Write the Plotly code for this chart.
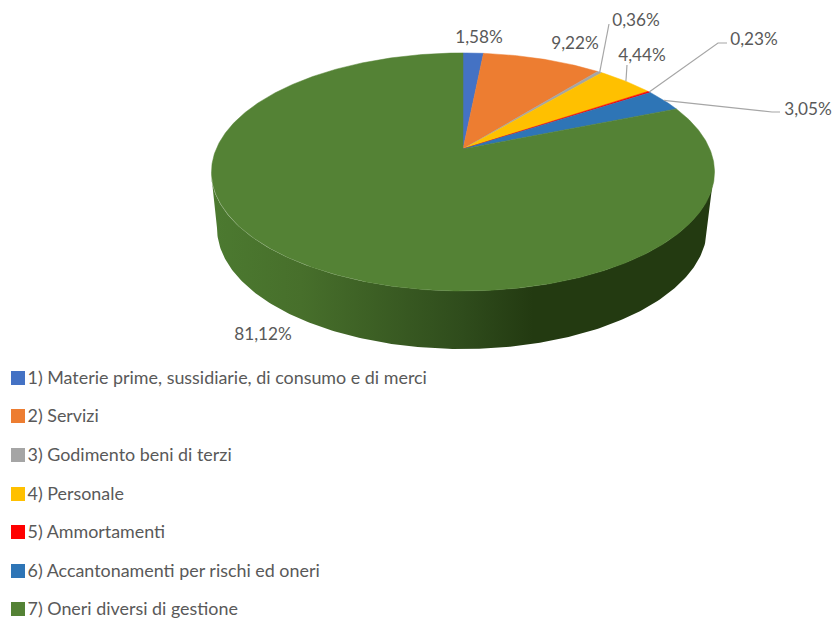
import numpy as np
import plotly.graph_objects as go

# ---- data ----
categories = ["1) Materie prime, sussidiarie, di consumo e di merci", "2) Servizi",
              "3) Godimento beni di terzi", "4) Personale", "5) Ammortamenti",
              "6) Accantonamenti per rischi ed oneri", "7) Oneri diversi di gestione"]
values = [1.58, 9.22, 0.36, 4.44, 0.23, 3.05, 81.12]

# ---- style ----
colors = ["#4472C4", "#ED7D31", "#A5A5A5", "#FFC000", "#FF0000", "#2E75B6", "#548235"]
side_scale = [[0, "#4C7A30"], [0.18, "#476F2B"], [0.5, "#2F4C1C"], [0.64, "#233A11"], [1, "#233A11"]]
FONT = "Lato"
TEXT = "#595959"
LINE = "#A6A6A6"

# ---- pie geometry (pixel axes) ----
CX, CY = 463.0, 149.0
K, A, C = 0.193, 114.6, 246.8
BOT = dict(cx=462.0, cy=228.0, rx=245.0, ry=121.0)
TOPE = dict(cx=462.5, cy=172.0, rx=251.5, ry=119.0)


def rim(pct):
    t = np.asarray(pct) / 100 * 2 * np.pi
    u, v = np.sin(t), np.cos(t)
    d = 1 + K * v
    return CX + C * u / d, CY - A * v / d


def arc(e, a0, a1, n=200):
    t = np.linspace(a0, a1, n)
    return e["cx"] + e["rx"] * np.cos(t), e["cy"] + e["ry"] * np.sin(t)


fig = go.Figure()

# side wall
x1, y1 = arc(TOPE, np.pi, 0)
x2, y2 = arc(BOT, 0, np.pi)
fig.add_trace(go.Scatter(
    x=np.r_[x1, x2], y=np.r_[y1, y2], mode="lines", fill="toself", line=dict(width=0),
    fillgradient=dict(type="horizontal", colorscale=side_scale), hoverinfo="skip", showlegend=False))

# top slices
edges = np.r_[0, np.cumsum(values)]
for i, name in enumerate(categories):
    p = np.linspace(edges[i], edges[i + 1], max(3, int(values[i] * 6)))
    xs, ys = rim(p)
    fig.add_trace(go.Scatter(
        x=np.r_[CX, xs, CX], y=np.r_[CY, ys, CY], mode="lines", fill="toself",
        fillcolor=colors[i], line=dict(width=0.5, color=colors[i]), name=name, showlegend=False))

# leader lines: (slice index, elbow points)
mids = (edges[:-1] + edges[1:]) / 2
leaders = {2: [(609, 24)], 3: [(627, 65)], 4: [(718, 43), (727, 43)], 5: [(772, 112), (780, 112)]}
for i, pts in leaders.items():
    sx, sy = rim(mids[i])
    fig.add_trace(go.Scatter(
        x=[float(sx)] + [q[0] for q in pts], y=[float(sy)] + [q[1] for q in pts],
        mode="lines", line=dict(color=LINE, width=1.2), hoverinfo="skip", showlegend=False))

# data labels
label_x = [479, 575, 636, 642, 754, 808, 263]
label_y = [39, 45, 22, 57, 41, 111, 336]
label_text = [f"{v:.2f}%".replace(".", ",") for v in values]
fig.add_trace(go.Scatter(
    x=label_x, y=label_y, text=label_text, mode="text", textposition="middle center",
    textfont=dict(family=FONT, size=17.2, color=TEXT), hoverinfo="skip", showlegend=False))

# legend rows
legend_y = [378, 416, 455, 494, 532, 571, 609]
legend_text_y = [y + 1.5 for y in legend_y]
fig.add_trace(go.Scatter(
    x=[18] * 7, y=legend_y, mode="markers", hoverinfo="skip", showlegend=False,
    marker=dict(symbol="square", size=14, color=colors, line=dict(width=0))))
fig.add_trace(go.Scatter(
    x=[27.5] * 7, y=legend_text_y, text=categories, mode="text", textposition="middle right",
    textfont=dict(family=FONT, size=17.9, color=TEXT), hoverinfo="skip", showlegend=False))

fig.update_layout(
    width=832, height=618, margin=dict(l=0, r=0, t=0, b=0),
    paper_bgcolor="white", plot_bgcolor="white", showlegend=False,
    xaxis=dict(range=[0, 832], visible=False, fixedrange=True),
    yaxis=dict(range=[618, 0], visible=False, fixedrange=True))

fig.write_html("out.html", config={"displayModeBar": False},
               post_script="document.body.style.margin='0';")
